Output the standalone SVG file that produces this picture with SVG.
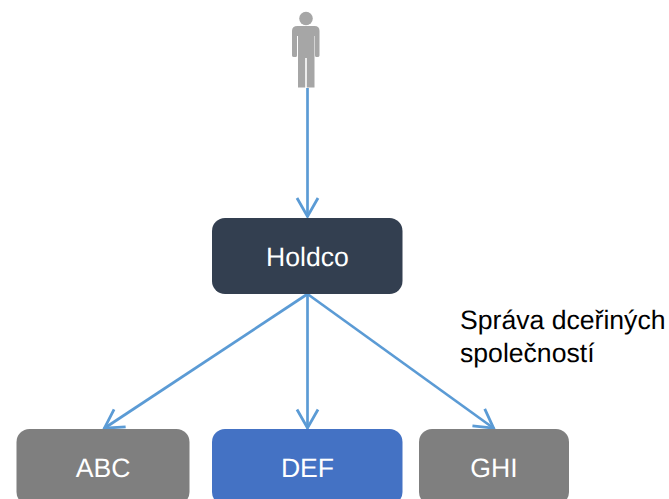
<svg xmlns="http://www.w3.org/2000/svg" width="669" height="499" viewBox="0 0 669 499">
<style>
text{font-family:"Liberation Sans",Arial,sans-serif;font-size:26.6px;text-rendering:geometricPrecision}
.c{fill:#fff;text-anchor:middle}
.l{fill:#000}
.e{fill:none;stroke:#5b9bd5;stroke-width:2.7}
</style>
<defs>
<marker id="a" markerUnits="userSpaceOnUse" markerWidth="24" markerHeight="24" refX="21" refY="12" orient="auto" overflow="visible">
<path d="M2 1.500L20.500 12L2 22.500" fill="none" stroke="#5b9bd5" stroke-width="2.8"/>
</marker>
</defs>
<rect width="669" height="499" fill="#fff"/>
<g id="person">
<circle cx="306" cy="18.500" r="6.800" fill="#a6a6a6"/>
<path d="M297.500 26H314.500Q319.500 26 319.500 31V55.500Q319.500 57 317.500 57H316.500Q315 57 315 55.500V36H314.500V87.500H306.800V58H305.200V87.500H298V36H297V55.500Q297 57 295.500 57H294Q292 57 292 55.500V31Q292 26 297.500 26Z" fill="#a6a6a6"/>
</g>
<g id="connectors">
<path class="e" d="M307.500 88V217" marker-end="url(#a)"/>
<path class="e" d="M307.500 294L104 428.500" marker-end="url(#a)"/>
<path class="e" d="M307.500 294V428.500" marker-end="url(#a)"/>
<path class="e" d="M307.500 294L494 428.500" marker-end="url(#a)"/>
</g>
<g id="holdco">
<rect x="212" y="218" width="190.500" height="76" rx="13" fill="#333f50"/>
<text class="c" x="307.500" y="266">Holdco</text>
</g>
<g id="abc">
<rect x="16.500" y="429" width="173" height="76" rx="13" fill="#7f7f7f"/>
<text class="c" x="103" y="477">ABC</text>
</g>
<g id="def">
<rect x="212" y="429" width="190.500" height="76" rx="13" fill="#4472c4"/>
<text class="c" x="307.500" y="477">DEF</text>
</g>
<g id="ghi">
<rect x="419" y="429" width="150" height="76" rx="13" fill="#7f7f7f"/>
<text class="c" x="494" y="477">GHI</text>
</g>
<g id="label">
<text class="l" x="460" y="329">Správa dceřiných</text>
<text class="l" x="460" y="362">společností</text>
</g>
</svg>
